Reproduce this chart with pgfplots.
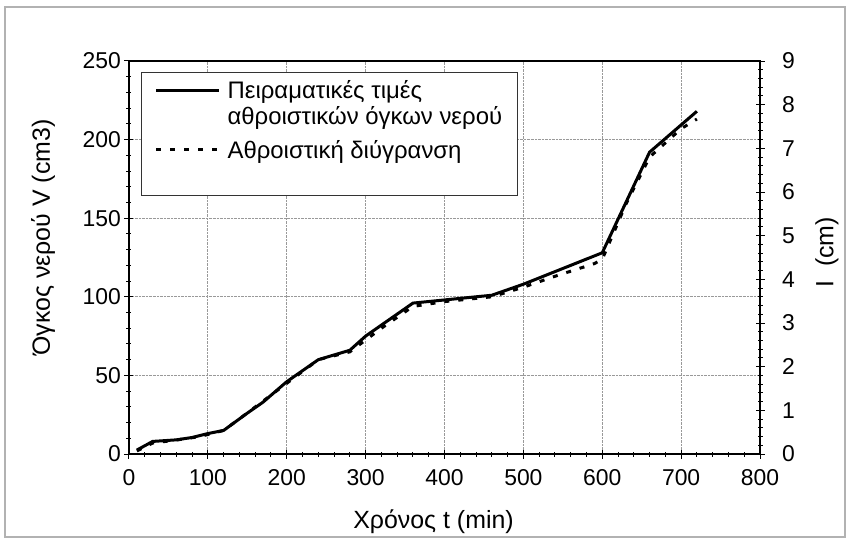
\documentclass[border=0pt]{standalone}
\usepackage{fontspec}
\setmainfont{Liberation Sans}
\usepackage{pgfplots}
\pgfplotsset{compat=1.18}
\pgfplotstableread{
t V
10 2.5
30 8
60 9
80 10.5
100 13
120 15
150 26
170 33
200 46
240 60
280 66
300 75
360 96
400 98
460 101
500 108
540 116
600 128
660 192
720 218
}\measured
\pgfplotstableread{
t I
10 0.07
30 0.25
60 0.32
90 0.40
120 0.54
150 0.94
200 1.62
240 2.16
280 2.34
320 2.88
360 3.38
400 3.49
460 3.60
500 3.82
540 4.07
590 4.36
600 4.46
630 5.72
660 6.80
700 7.45
720 7.67
}\infil
\begin{document}
\begin{tikzpicture}
\useasboundingbox (-129bp,-88bp) rectangle (720bp,454bp);
\draw[gray!60, line width=1.2bp] (-124bp,-83bp) rectangle (716bp,447bp);
\pgfplotsset{
  common/.style={
    scale only axis, width=631bp, height=393bp,
    xmin=0, xmax=800,
    tick align=center,
    major tick length=9bp, minor tick length=5bp,
    tick style={black, line width=1bp},
    axis line style={line width=1.5bp},
    ticklabel style={font=\fontsize{23}{25}\selectfont},
    label style={font=\fontsize{25}{27}\selectfont},
    /pgf/number format/assume math mode=true,
  }
}
\begin{axis}[
  common,
  ymin=0, ymax=250,
  xtick={0,100,...,800}, ytick={0,50,...,250},
  minor x tick num=4, minor y tick num=4,
  xtick pos=bottom, ytick pos=left,
  xticklabel style={yshift=-7bp},
  grid=major,
  major grid style={densely dotted, gray!80, line width=0.8bp},
  xlabel={Χρόνος t (min)}, ylabel={Όγκος νερού V (cm3)},
  xlabel style={at={(axis description cs:0.5,-0.173)}, anchor=center, xshift=-11bp},
  ylabel style={at={(axis description cs:-0.1363,0.551)}, anchor=center},
  legend style={at={(0,1)}, anchor=north west, xshift=12bp, yshift=-11bp,
    draw=black!80, line width=1.2bp, inner xsep=13bp, inner ysep=6bp,
    font=\fontsize{24}{26}\selectfont,
    cells={anchor=west}, row sep=22bp, column sep=5bp},
  legend image code/.code={\draw[#1] (0bp,0bp) -- (63bp,0bp);},
]
\addplot[black, line width=3bp, forget plot] table[x=t, y=V] {\measured};
\addlegendimage{black, line width=3bp, yshift=7bp}
\addlegendentry{\begin{tabular}{@{}l@{}}Πειραματικές τιμές\\αθροιστικών όγκων νερού\end{tabular}}
\addlegendimage{black, line width=3bp, dash pattern=on 5bp off 9bp}
\addlegendentry{Αθροιστική διύγρανση}
\addlegendimage{empty legend}
\addlegendentry{}
\end{axis}
\begin{axis}[
  common,
  ymin=0, ymax=9,
  axis y line*=right, axis x line=none,
  ytick={0,1,...,9}, minor y tick num=4,
  yticklabel shift=14bp,
  ylabel={I\ \ (cm)},
  ylabel style={at={(axis description cs:1.1062,0.513)}, anchor=center},
]
\addplot[black, line width=3bp, dash pattern=on 5bp off 9bp] table[x=t, y=I] {\infil};
\end{axis}
\end{tikzpicture}
\end{document}
